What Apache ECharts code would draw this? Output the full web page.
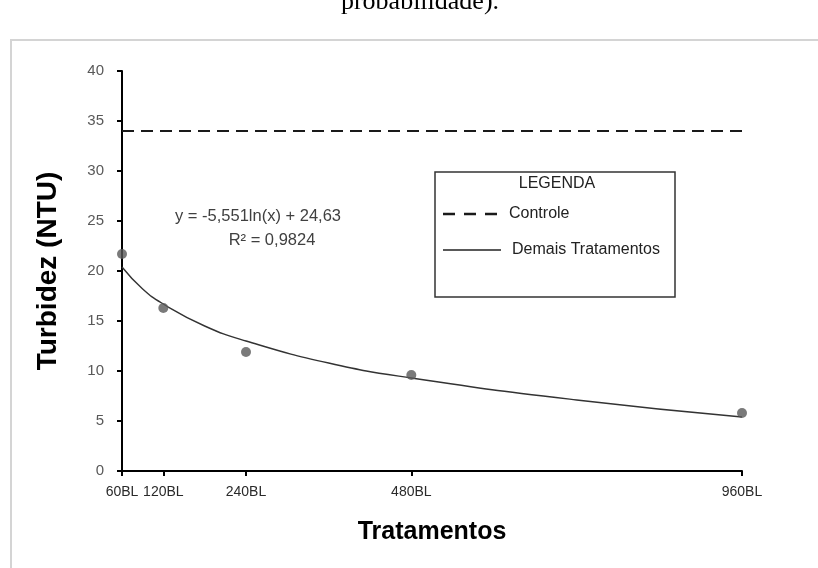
<!DOCTYPE html>
<html>
<head>
<meta charset="utf-8">
<script src="https://cdn.jsdelivr.net/npm/echarts@6/dist/echarts.min.js"></script>
<style>html,body{margin:0;padding:0;background:#fff;}#c{width:818px;height:568px;}</style>
</head>
<body>
<div id="c"></div>
<script>
// Treatments (x positions in BL) and tick labels
const tratamentos = [60, 120, 240, 480, 960];
const tickLabels = ['60BL', '120BL', '240BL', '480BL', '960BL'];
// Observed turbidity (NTU)
const turbidez = [21.7, 16.3, 11.9, 9.6, 5.8];
// Control level
const controle = 34;
// Trend curve
const curvaX = [60, 90, 120, 180, 240, 360, 480, 720, 960];
const curvaY = [20.4, 18.2, 16.7, 14.5, 13.0, 10.8, 9.3, 7.1, 5.4];
// Legend labels
const legendLabels = ['Controle', 'Demais Tratamentos'];

const chart = echarts.init(document.getElementById('c'));
const tickFont = '"Liberation Sans Narrow", "Arial Narrow", "Liberation Sans", Arial, sans-serif';
const sans = '"Liberation Sans", Arial, sans-serif';

chart.setOption({
  animation: false,
  backgroundColor: '#fff',
  grid: { left: 122, right: 76, top: 71, bottom: 97 },
  xAxis: {
    type: 'value',
    min: 60, max: 960,
    splitLine: { show: false },
    axisLine: { show: true, lineStyle: { color: '#000', width: 2 } },
    axisTick: { show: true, customValues: tratamentos, length: 5, lineStyle: { color: '#000', width: 2 } },
    axisLabel: {
      customValues: tratamentos,
      formatter: v => tickLabels[tratamentos.indexOf(v)] || '',
      color: '#2a2a2a', fontFamily: tickFont, fontSize: 14, margin: 14
    },
    name: 'Tratamentos', nameLocation: 'middle', nameGap: 49,
    nameTextStyle: { fontFamily: sans, fontWeight: 'bold', fontSize: 25, color: '#000' }
  },
  yAxis: {
    type: 'value',
    min: 0, max: 40, interval: 5,
    splitLine: { show: false },
    axisLine: { show: true, lineStyle: { color: '#000', width: 2 } },
    axisTick: { show: true, length: 5, lineStyle: { color: '#000', width: 2 } },
    axisLabel: { color: '#595959', fontFamily: sans, fontSize: 15, margin: 18 },
    name: 'Turbidez (NTU)', nameLocation: 'middle', nameGap: 60,
    nameTextStyle: { fontFamily: sans, fontWeight: 'bold', fontSize: 28, color: '#000' }
  },
  series: [
    {
      name: 'Controle', type: 'line', symbol: 'none',
      data: [[tratamentos[0], controle], [tratamentos[tratamentos.length - 1], controle]],
      lineStyle: { color: '#1a1a1a', width: 2, type: [12, 7] },
      itemStyle: { color: '#1a1a1a' }
    },
    {
      name: 'Demais Tratamentos', type: 'line', symbol: 'none', smooth: true,
      data: curvaX.map((x, i) => [x, curvaY[i]]),
      lineStyle: { color: '#333', width: 1.4 },
      itemStyle: { color: '#333' }
    },
    {
      name: 'Observado', type: 'scatter', symbolSize: 10, z: 5,
      data: tratamentos.map((x, i) => [x, turbidez[i]]),
      itemStyle: { color: '#595959' }
    }
  ],
  graphic: [
    { type: 'rect', shape: { x: 11, y: 40, width: 830, height: 560 },
      style: { fill: 'none', stroke: '#d4d4d4', lineWidth: 2 }, silent: true },
    { type: 'text', x: 420, y: 15,
      style: { text: 'probabilidade).', fill: '#000', font: '26px "Liberation Serif", "Times New Roman", serif',
               textAlign: 'center', textVerticalAlign: 'bottom' } },
    { type: 'rect', shape: { x: 435, y: 172, width: 240, height: 125 },
      style: { fill: 'none', stroke: '#333', lineWidth: 1.5 }, silent: true },
    { type: 'text', x: 557, y: 184,
      style: { text: 'LEGENDA', fill: '#222', font: '16px "Liberation Sans", Arial, sans-serif',
               textAlign: 'center', textVerticalAlign: 'middle' } },
    { type: 'line', shape: { x1: 443, y1: 214, x2: 502, y2: 214 },
      style: { stroke: '#1a1a1a', lineWidth: 2.5, lineDash: [12, 9] } },
    { type: 'text', x: 509, y: 214,
      style: { text: legendLabels[0], fill: '#222', font: '16px "Liberation Sans", Arial, sans-serif',
               textAlign: 'left', textVerticalAlign: 'middle' } },
    { type: 'line', shape: { x1: 443, y1: 250, x2: 501, y2: 250 },
      style: { stroke: '#222', lineWidth: 1.5 } },
    { type: 'text', x: 512, y: 250,
      style: { text: legendLabels[1], fill: '#222', font: '16px "Liberation Sans", Arial, sans-serif',
               textAlign: 'left', textVerticalAlign: 'middle' } },
    { type: 'text', x: 258, y: 216,
      style: { text: 'y = -5,551ln(x) + 24,63', fill: '#404040', font: '16.5px "Liberation Sans", Arial, sans-serif',
               textAlign: 'center', textVerticalAlign: 'middle' } },
    { type: 'text', x: 272, y: 240,
      style: { text: 'R² = 0,9824', fill: '#404040', font: '16.5px "Liberation Sans", Arial, sans-serif',
               textAlign: 'center', textVerticalAlign: 'middle' } }
  ]
});
</script>
</body>
</html>
